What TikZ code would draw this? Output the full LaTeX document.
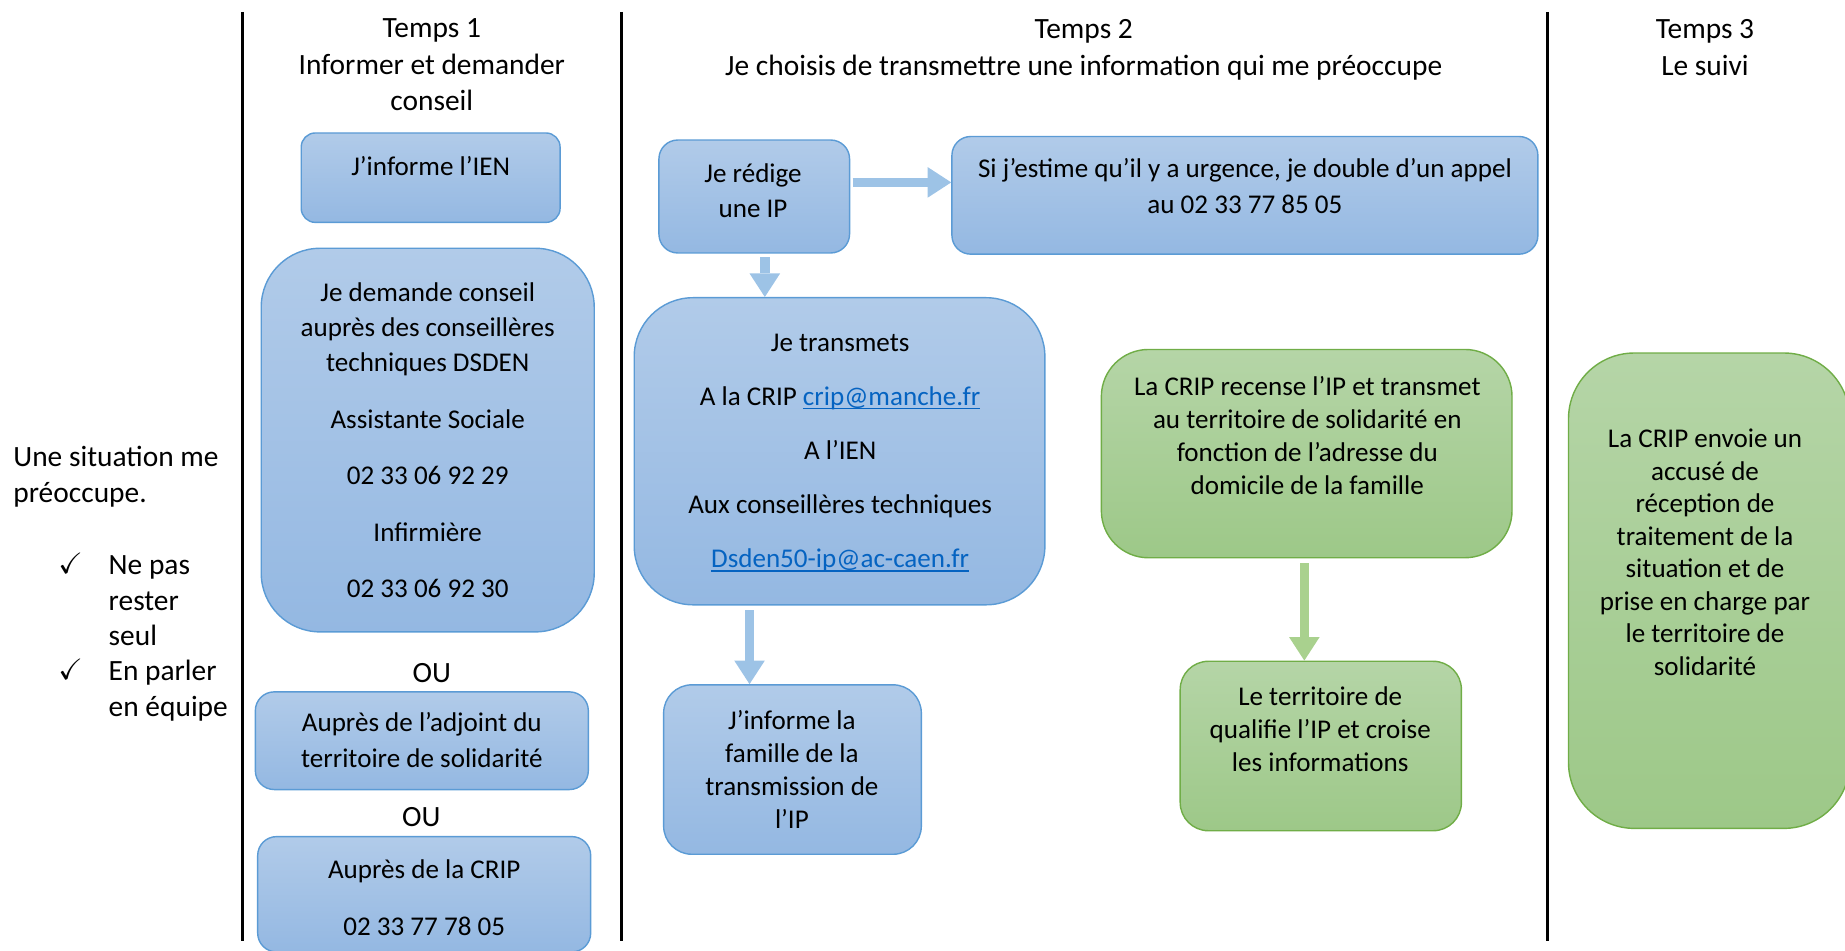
\documentclass[tikz,border=0pt]{standalone}
\usepackage{fontspec}
\setmainfont{Carlito}
\usepackage{amssymb}
\usetikzlibrary{arrows.meta}
\definecolor{bluetop}{HTML}{B1CBE9}
\definecolor{bluebot}{HTML}{94B8E2}
\definecolor{blueline}{HTML}{5B9BD5}
\definecolor{greentop}{HTML}{B5D5A7}
\definecolor{greenbot}{HTML}{9DC888}
\definecolor{greenline}{HTML}{70AD47}
\definecolor{barrowc}{HTML}{9DC3E6}
\definecolor{garrowc}{HTML}{A9D18E}
\definecolor{linkc}{HTML}{0563C1}
\newcommand{\lnk}[1]{\textcolor{linkc}{\setbox0\hbox{#1}\rlap{\rule[-1.7pt]{\wd0}{0.6pt}}\box0}}
\tikzset{
 bluebox/.style={draw=blueline, line width=0.6pt, top color=bluetop, bottom color=bluebot, rectangle, inner sep=0pt},
 greenbox/.style={draw=greenline, line width=0.6pt, top color=greentop, bottom color=greenbot, rectangle, inner sep=0pt},
 txt/.style={font=\fontsize{11.5}{14}\selectfont, align=center, inner sep=0pt},
 txtb/.style={font=\fontsize{11.5}{15}\selectfont, align=center, inner sep=0pt},
 hdr/.style={font=\fontsize{12.5}{15.5}\selectfont, align=center, inner sep=0pt},
 barrow/.style={draw=barrowc, line width=4pt, -{Triangle[width=13pt,length=10pt,line width=0pt]}},
 garrow/.style={draw=garrowc, line width=4pt, -{Triangle[width=13pt,length=10pt,line width=0pt]}},
 sepline/.style={line width=1.2pt},
}
\begin{document}
\begin{tikzpicture}[x=0.5pt,y=-0.5pt]
\useasboundingbox (0,0) rectangle (1568,808.2);
% column separators
\coordinate (s1t) at (206,10); \coordinate (s1b) at (206,800);
\coordinate (s2t) at (528,10); \coordinate (s2b) at (528,800);
\coordinate (s3t) at (1315,10); \coordinate (s3b) at (1315,800);
\draw[sepline] (s1t) -- (s1b);
\draw[sepline] (s2t) -- (s2b);
\draw[sepline] (s3t) -- (s3b);
% headers
\node[hdr] (h1) at (367,55) {Temps 1\\Informer et demander\\conseil};
\node[hdr] (h2) at (921,42.5) {Temps 2\\Je choisis de transmettre une information qui me préoccupe};
\node[hdr] (h3) at (1449,40.5) {Temps 3\\Le suivi};
% left column
\node[hdr, anchor=west, align=left] (l1) at (11,405) {Une situation me\\préoccupe.};
\node[anchor=west, align=left, inner sep=0pt, font=\fontsize{12.5}{15}\selectfont] (l2) at (92,542.5) {Ne pas\\rester\\seul\\En parler\\en équipe};
\node[inner sep=0pt, scale=1.25] (c1) at (60,479) {$\checkmark$};
\node[inner sep=0pt, scale=1.25] (c2) at (60,569) {$\checkmark$};
% Temps 1 boxes
\node[bluebox, minimum width=110pt, minimum height=38pt, rounded corners=6pt] (b1) at (366,151) {};
\node[txt] (t1) at (366,141) {J’informe l’IEN};
\node[bluebox, minimum width=141.5pt, minimum height=163pt, rounded corners=25pt] (b2) at (363.5,374) {};
\node[txtb] (t2) at (363.5,374) {Je demande conseil\\auprès des conseillères\\techniques DSDEN\\[9pt]Assistante Sociale\\[9pt]02 33 06 92 29\\[9pt]Infirmière\\[9pt]02 33 06 92 30};
\node[hdr] (ou1) at (367,572) {OU};
\node[bluebox, minimum width=141.5pt, minimum height=41.5pt, rounded corners=8pt] (b3) at (358.5,629.5) {};
\node[txtb] (t3) at (358.5,629) {Auprès de l’adjoint du\\territoire de solidarité};
\node[hdr] (ou2) at (358,694) {OU};
\node[bluebox, minimum width=141.5pt, minimum height=49pt, rounded corners=8pt] (b4) at (360.5,760) {};
\node[txtb] (t4) at (360.5,763) {Auprès de la CRIP\\[9pt]02 33 77 78 05};
% Temps 2 boxes
\node[bluebox, minimum width=81pt, minimum height=48pt, rounded corners=8pt] (b5) at (641,167) {};
\node[txtb] (t5) at (640,162) {Je rédige\\une IP};
\node[bluebox, minimum width=249pt, minimum height=50pt, rounded corners=8pt] (b6) at (1058,166) {};
\node[txtb] (t6) at (1058,158) {Si j’estime qu’il y a urgence, je double d’un appel\\au 02 33 77 85 05};
\node[bluebox, minimum width=174.5pt, minimum height=130.5pt, rounded corners=25pt] (b7) at (713.5,383.5) {};
\node[txtb] (t7) at (714,385) {Je transmets\\[8pt]A la CRIP \lnk{crip@manche.fr}\\[8pt]A l’IEN\\[8pt]Aux conseillères techniques\\[8pt]\lnk{Dsden50-ip@ac-caen.fr}};
\node[bluebox, minimum width=109.5pt, minimum height=72pt, rounded corners=12pt] (b8) at (673.5,654) {};
\node[txt] (t8) at (673,654) {J’informe la\\famille de la\\transmission de\\l’IP};
\node[greenbox, minimum width=174.5pt, minimum height=88.5pt, rounded corners=20pt] (g1) at (1110.5,385.5) {};
\node[txt] (tg1) at (1111,370) {La CRIP recense l’IP et transmet\\au territoire de solidarité en\\fonction de l’adresse du\\domicile de la famille};
\node[greenbox, minimum width=119.5pt, minimum height=72pt, rounded corners=12pt] (g2) at (1122.5,634) {};
\node[txt] (tg2) at (1122,620) {Le territoire de\\qualifie l’IP et croise\\les informations};
% Temps 3 box
\node[greenbox, minimum width=119.5pt, minimum height=202pt, rounded corners=28pt] (g3) at (1452.5,502) {};
\node[txt, font=\fontsize{11.5}{13.8}\selectfont] (tg3) at (1449,469.5) {La CRIP envoie un\\accusé de\\réception de\\traitement de la\\situation et de\\prise en charge par\\le territoire de\\solidarité};
% arrows
\coordinate (a1s) at ([yshift=6pt,xshift=1pt]b5.east);
\draw[barrow] (a1s) -- (a1s -| b6.west);
\coordinate (a2s) at ([xshift=4.5pt,yshift=-1.5pt]b5.south);
\draw[barrow] (a2s) -- (a2s |- b7.north);
\coordinate (a3e) at ([xshift=-18.25pt]b8.north);
\draw[barrow, shorten <=2pt] (b7.south -| a3e) -- (a3e);
\coordinate (a4e) at ([xshift=-7pt]g2.north);
\draw[garrow, shorten <=2pt] (g1.south -| a4e) -- (a4e);
\end{tikzpicture}
\end{document}
